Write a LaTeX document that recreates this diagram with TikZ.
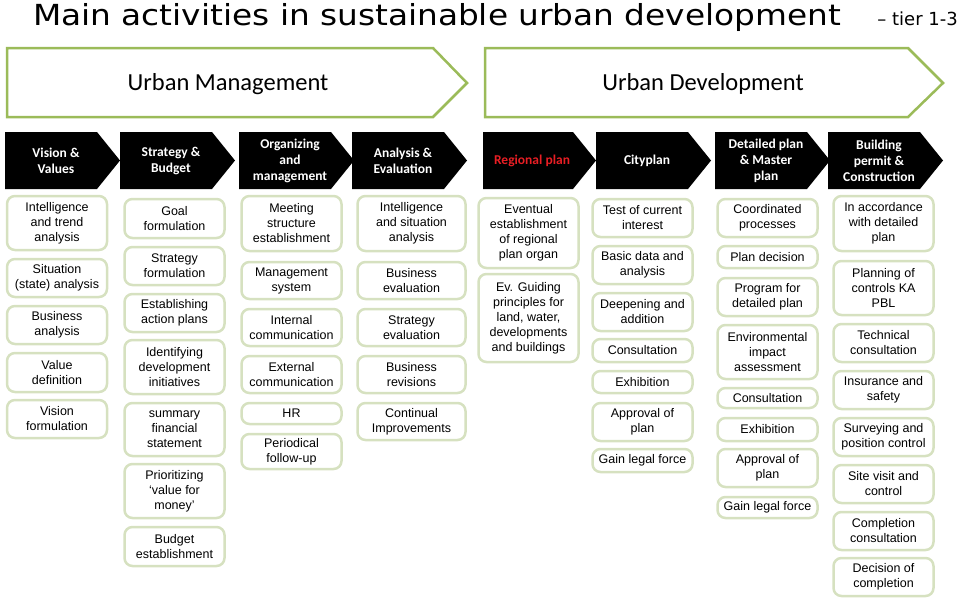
\documentclass[tikz,border=0pt]{standalone}
\usepackage{fontspec}
\setmainfont{Carlito}
\newfontfamily\titlefont[FakeStretch=1.13]{DejaVu Sans}
\newfontfamily\tierfont{DejaVu Sans}
\newfontfamily\boxfont{Liberation Sans}

\definecolor{arrowgreen}{RGB}{155,187,89}
\definecolor{boxline}{RGB}{214,225,192}
\definecolor{planred}{RGB}{232,30,36}

\tikzset{
  act/.style={draw=boxline, line width=2.5pt, rounded corners=8pt, fill=white,
    align=center, inner sep=0pt, minimum width=100pt,
    font=\boxfont\fontsize{12.5}{15}\selectfont},
  phasetext/.style={text=white, align=center, inner sep=0pt,
    font=\bfseries\fontsize{13.5}{16}\selectfont},
  tier/.style={draw=arrowgreen, line width=2.5pt, fill=white},
  tiertext/.style={font=\fontsize{24.5}{28}\selectfont},
}

\begin{document}
\begin{tikzpicture}[x=1pt,y=-1pt]
\useasboundingbox (0,0) rectangle (960,603);

% title
\node[anchor=base west, inner sep=0pt, font=\titlefont\fontsize{29}{32}\selectfont] (title) at (33,25) {Main activities in sustainable urban development};
\node[anchor=base east, inner sep=0pt, font=\tierfont\fontsize{18}{20}\selectfont] (tier) at (958,25) {– tier 1-3};

% the two tiers
\draw[tier] (7,48) -- (433,48) -- (467,83) -- (433,117) -- (7,117) -- cycle;
\node[tiertext] (um) at (228,84) {Urban Management};
\draw[tier] (485,48) -- (908,48) -- (943,83) -- (908,117) -- (485,117) -- cycle;
\node[tiertext] (ud) at (703,84) {Urban Development};

% phases
\foreach \x/\n/\t in {5/vision/{Vision \&\\Values}, 120/strategy/{Strategy \&\\Budget},
    239/organizing/{Organizing\\and\\management}, 352/analysis/{Analysis \&\\Evaluation},
    596/city/{Cityplan}, 715/detailed/{Detailed plan\\\& Master\\plan},
    828/building/{Building\\permit \&\\Construction}}
{
  \fill (\x,132) -- ++(92,0) -- ++(23,28.5) -- ++(-23,28.5) -- ++(-92,0) -- cycle;
  \node[phasetext] (\n) at (\x+51,160.5) {\t};
}
\fill (483,132) -- ++(90,0) -- ++(23,28.5) -- ++(-23,28.5) -- ++(-90,0) -- cycle;
\node[phasetext, text=planred] (regional) at (532,160.5) {Regional plan};

% Vision & Values
\node[act, minimum height=54pt] (vv1) at (57,223) {Intelligence\\and trend\\analysis};
\node[act, minimum height=38pt] (vv2) at (57,278) {Situation\\(state) analysis};
\node[act, minimum height=38pt] (vv3) at (57,325) {Business\\analysis};
\node[act, minimum height=39pt] (vv4) at (57,372.5) {Value\\definition};
\node[act, minimum height=38pt] (vv5) at (57,419) {Vision\\formulation};

% Strategy & Budget
\node[act, minimum height=39pt] (sb1) at (174.5,218.5) {Goal\\formulation};
\node[act, minimum height=38pt] (sb2) at (174.5,266) {Strategy\\formulation};
\node[act, minimum height=38pt] (sb3) at (174.5,313) {Establishing\\action plans};
\node[act, minimum height=54pt] (sb4) at (174.5,367) {Identifying\\development\\initiatives};
\node[act, minimum height=53pt] (sb5) at (174.5,429.5) {summary\\financial\\statement};
\node[act, minimum height=54pt] (sb6) at (174.5,491) {Prioritizing\\‘value for\\money’};
\node[act, minimum height=39pt] (sb7) at (174.5,546.5) {Budget\\establishment};

% Organizing and management
\node[act, minimum height=55pt] (om1) at (291.5,223.5) {Meeting\\structure\\establishment};
\node[act, minimum height=37pt] (om2) at (291.5,280.5) {Management\\system};
\node[act, minimum height=37pt] (om3) at (291.5,327.5) {Internal\\communication};
\node[act, minimum height=37pt] (om4) at (291.5,374.5) {External\\communication};
\node[act, minimum height=21pt] (om5) at (291.5,413.5) {HR};
\node[act, minimum height=35pt] (om6) at (291.5,451.5) {Periodical\\follow-up};

% Analysis & Evaluation
\node[act, minimum width=108pt, minimum height=55pt] (ae1) at (411.5,223.5) {Intelligence\\and situation\\analysis};
\node[act, minimum width=108pt, minimum height=37pt] (ae2) at (411.5,280.5) {Business\\evaluation};
\node[act, minimum width=108pt, minimum height=37pt] (ae3) at (411.5,327.5) {Strategy\\evaluation};
\node[act, minimum width=108pt, minimum height=37pt] (ae4) at (411.5,374.5) {Business\\revisions};
\node[act, minimum width=108pt, minimum height=37pt] (ae5) at (411.5,421.5) {Continual\\Improvements};

% Regional plan
\node[act, minimum height=70pt] (rp1) at (528.5,233) {Eventual\\establishment\\of regional\\plan organ};
\node[act, minimum height=88pt] (rp2) at (528.5,318) {Ev. Guiding\\principles for\\land, water,\\developments\\and buildings};

% Cityplan
\node[act, minimum height=38pt] (cp1) at (642.5,218) {Test of current\\interest};
\node[act, minimum height=38pt] (cp2) at (642.5,265) {Basic data and\\analysis};
\node[act, minimum height=38pt] (cp3) at (642.5,312) {Deepening and\\addition};
\node[act, minimum height=23pt] (cp4) at (642.5,350.5) {Consultation};
\node[act, minimum height=22pt] (cp5) at (642.5,382) {Exhibition};
\node[act, minimum height=38pt] (cp6) at (642.5,422) {Approval of\\plan};
\node[act, minimum height=23pt] (cp7) at (642.5,460.5) {Gain legal force};

% Detailed plan & Master plan
\node[act, minimum height=38pt] (dp1) at (767.5,218) {Coordinated\\processes};
\node[act, minimum height=22pt] (dp2) at (767.5,257) {Plan decision};
\node[act, minimum height=38pt] (dp3) at (767.5,297) {Program for\\detailed plan};
\node[act, minimum height=54pt] (dp4) at (767.5,352) {Environmental\\impact\\assessment};
\node[act, minimum height=20pt] (dp5) at (767.5,398) {Consultation};
\node[act, minimum height=23pt] (dp6) at (767.5,429.5) {Exhibition};
\node[act, minimum height=38pt] (dp7) at (767.5,468) {Approval of\\plan};
\node[act, minimum height=21pt] (dp8) at (767.5,507.5) {Gain legal force};

% Building permit & Construction
\node[act, minimum height=55pt] (bp1) at (883.5,223.5) {In accordance\\with detailed\\plan};
\node[act, minimum height=54pt] (bp2) at (883.5,288) {Planning of\\controls KA\\PBL};
\node[act, minimum height=38pt] (bp3) at (883.5,343) {Technical\\consultation};
\node[act, minimum height=38pt] (bp4) at (883.5,390) {Insurance and\\safety};
\node[act, minimum height=38pt] (bp5) at (883.5,437) {Surveying and\\position control};
\node[act, minimum height=38pt] (bp6) at (883.5,484) {Site visit and\\control};
\node[act, minimum height=38pt] (bp7) at (883.5,531) {Completion\\consultation};
\node[act, minimum height=38pt] (bp8) at (883.5,577) {Decision of\\completion};
\end{tikzpicture}
\end{document}
